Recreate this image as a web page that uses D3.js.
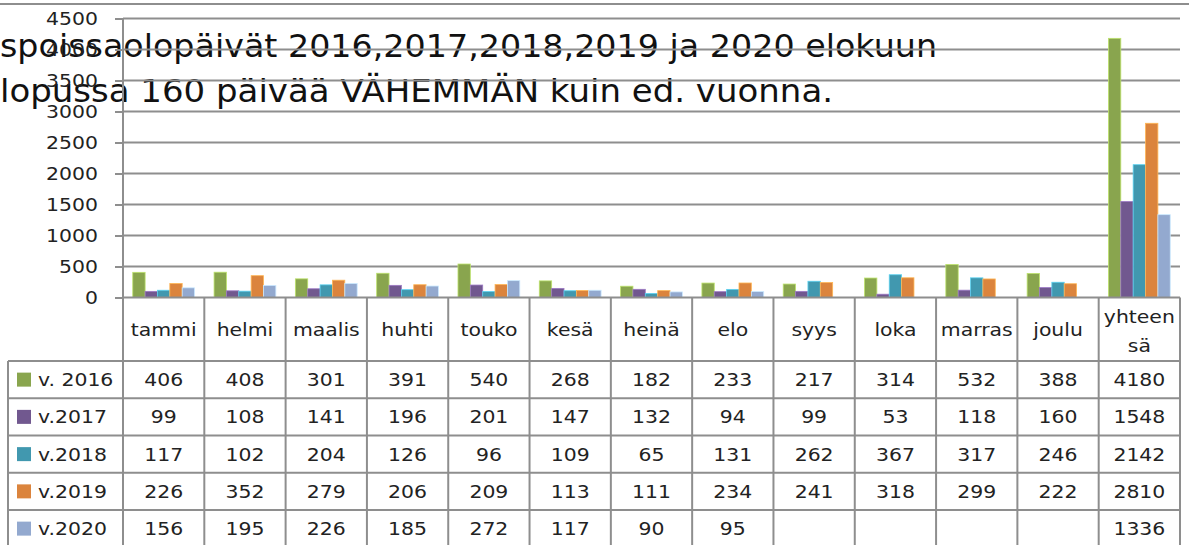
<!DOCTYPE html>
<html>
<head>
<meta charset="utf-8">
<script src="https://cdn.jsdelivr.net/npm/d3@7"></script>
<style>
  body { margin: 0; background: #fff; }
  svg { display: block; }
</style>
</head>
<body>
<script>
// data
const months = ['tammi','helmi','maalis','huhti','touko','kesä','heinä','elo','syys','loka','marras','joulu','yhteensä']
const seriesNames = ['v. 2016','v.2017','v.2018','v.2019','v.2020']
const v2016 = [406,408,301,391,540,268,182,233,217,314,532,388,4180]
const v2017 = [99,108,141,196,201,147,132,94,99,53,118,160,1548]
const v2018 = [117,102,204,126,96,109,65,131,262,367,317,246,2142]
const v2019 = [226,352,279,206,209,113,111,234,241,318,299,222,2810]
const v2020 = [156,195,226,185,272,117,90,95,null,null,null,null,1336]
const yTicks = [0,500,1000,1500,2000,2500,3000,3500,4000,4500]
const titleLines = ['spoissaolopäivät 2016,2017,2018,2019 ja 2020 elokuun',
                    'lopussa 160 päivää VÄHEMMÄN kuin ed. vuonna.']

const allSeries = [v2016, v2017, v2018, v2019, v2020]
const colors = ['#89A54E','#71588F','#4198AF','#DB843D','#93A9CF']

const width = 1189, height = 545
const plotLeft = 123, plotRight = 1180
const rowH = 37.25
const headTop = 297.5, headBottom = 361
const gridColor = '#8e8e8e'
const font = 'DejaVu Sans, sans-serif'

const svg = d3.select('body').append('svg')
  .attr('width', width)
  .attr('height', height)

const x = d3.scaleBand().domain(months).range([plotLeft, plotRight])
const y = d3.scaleLinear().domain([0, 4500]).range([headTop, 18.5])
const bw = x.bandwidth()
const xInner = d3.scaleBand().domain(seriesNames).range([0, bw * 0.76])

// stretched text, the original font is wider than what we have
function label(g, txt, tx, ty, anchor, size) {
  return g.append('text')
    .attr('transform', 'translate(' + tx + ',' + ty + ') scale(1.2,1)')
    .attr('text-anchor', anchor)
    .attr('font-family', font)
    .attr('font-size', size || 17)
    .attr('fill', '#222')
    .text(txt)
}

// slide border at the top
svg.append('line')
  .attr('x1', 0).attr('x2', width)
  .attr('y1', 4).attr('y2', 4)
  .attr('stroke', gridColor).attr('stroke-width', 2)

// title text (cut at the left like in the original)
const title = svg.append('g')
title.selectAll('text')
  .data(titleLines)
  .enter()
  .append('text')
  .attr('x', 0)
  .attr('y', (d, i) => 57 + i * 45)
  .attr('font-family', font)
  .attr('font-size', 32)
  .attr('fill', '#111')
  .attr('textLength', (d, i) => i == 0 ? 937 : 833)
  .attr('lengthAdjust', 'spacingAndGlyphs')
  .text(d => d)

// gridlines + y axis
const yAxis = d3.axisLeft(y).tickValues(yTicks).tickSize(8).tickPadding(9)
const yg = svg.append('g')
  .attr('transform', 'translate(' + plotLeft + ',0)')
  .call(yAxis)
yg.select('.domain').remove()
yg.selectAll('line').attr('stroke', gridColor).attr('stroke-width', 2)
yg.selectAll('text').remove()
yTicks.forEach(t => label(yg, t, -25, y(t) + 6, 'end'))

svg.append('g').selectAll('line')
  .data(yTicks.slice(1))
  .enter()
  .append('line')
  .attr('x1', plotLeft).attr('x2', plotRight)
  .attr('y1', d => y(d)).attr('y2', d => y(d))
  .attr('stroke', gridColor).attr('stroke-width', 2)

// bars
const groups = svg.append('g').selectAll('g')
  .data(months)
  .enter()
  .append('g')
  .attr('transform', d => 'translate(' + (x(d) + bw * 0.12) + ',0)')

groups.selectAll('rect')
  .data((m, i) => seriesNames.map((s, k) => ({ s: s, k: k, v: allSeries[k][i] })).filter(d => d.v != null))
  .enter()
  .append('rect')
  .attr('x', d => xInner(d.s))
  .attr('width', xInner.bandwidth())
  .attr('y', d => y(d.v))
  .attr('height', d => y(0) - y(d.v))
  .attr('fill', d => colors[d.k])
  .attr('stroke', d => d3.color(colors[d.k]).brighter(0.9))
  .attr('stroke-width', 0.8)

// data table
const table = svg.append('g')
const lastBottom = headBottom + rowH * seriesNames.length

// horizontal lines
table.append('line')
  .attr('x1', plotLeft).attr('x2', plotRight)
  .attr('y1', headTop).attr('y2', headTop)
  .attr('stroke', gridColor).attr('stroke-width', 2)
table.selectAll('line.row')
  .data(d3.range(seriesNames.length))
  .enter()
  .append('line')
  .attr('class', 'row')
  .attr('x1', 8).attr('x2', plotRight)
  .attr('y1', d => headBottom + d * rowH).attr('y2', d => headBottom + d * rowH)
  .attr('stroke', gridColor).attr('stroke-width', 2)

// vertical lines
table.selectAll('line.col')
  .data(months.map(m => x(m)).concat([plotRight]))
  .enter()
  .append('line')
  .attr('class', 'col')
  .attr('x1', d => d).attr('x2', d => d)
  .attr('y1', 18).attr('y2', lastBottom)
  .attr('stroke', gridColor).attr('stroke-width', 2)
  .attr('y1', (d, i) => i == 0 ? 18 : headTop)
table.append('line')
  .attr('x1', 8).attr('x2', 8)
  .attr('y1', headBottom).attr('y2', lastBottom)
  .attr('stroke', gridColor).attr('stroke-width', 2)

// header labels
months.forEach(m => {
  const cx = x(m) + bw / 2
  if (m == 'yhteensä') {
    label(table, 'yhteen', cx, 323, 'middle')
    label(table, 'sä', cx, 352, 'middle')
  } else {
    label(table, m, cx, 336, 'middle')
  }
})

// legend keys + values
seriesNames.forEach((s, k) => {
  const top = headBottom + k * rowH
  table.append('rect')
    .attr('x', 17).attr('y', top + rowH / 2 - 7)
    .attr('width', 14).attr('height', 14)
    .attr('fill', colors[k])
  label(table, s, 38, top + rowH / 2 + 6.5, 'start')
  months.forEach((m, i) => {
    const v = allSeries[k][i]
    if (v != null) label(table, v, x(m) + bw / 2, top + rowH / 2 + 6.5, 'middle')
  })
})
</script>
</body>
</html>
